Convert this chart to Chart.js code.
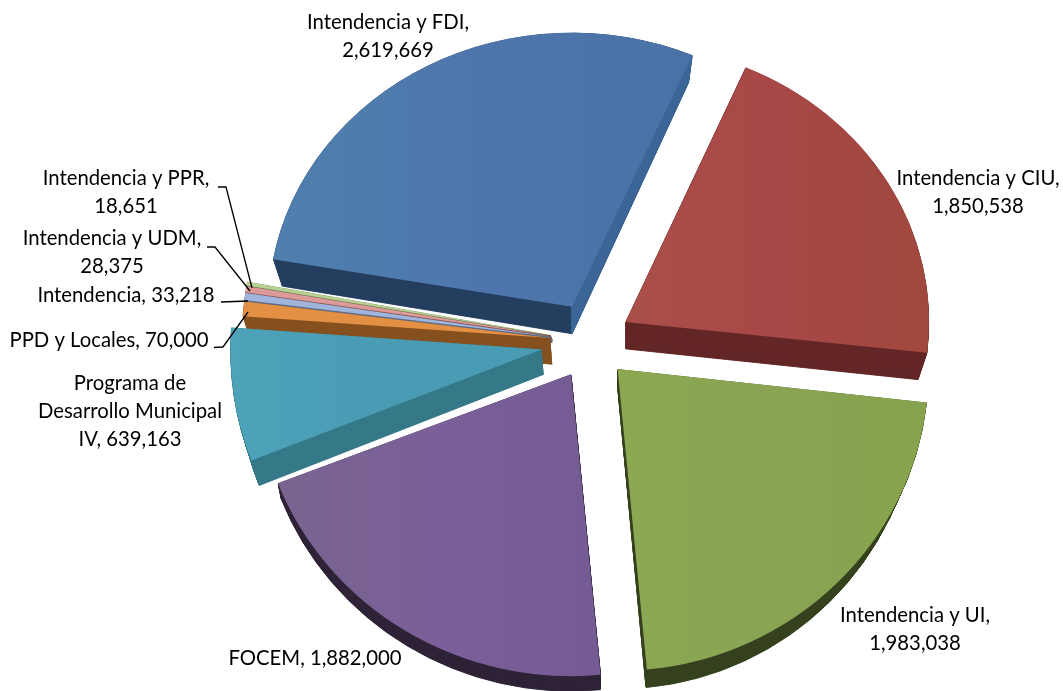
<!DOCTYPE html>
<html><head><meta charset="utf-8">
<style>html,body{margin:0;padding:0;background:#fff}canvas{display:block}</style>
<script src="https://cdn.jsdelivr.net/npm/chart.js@4/dist/chart.umd.min.js"></script>
</head><body><canvas id="c" width="1063" height="691"></canvas>
<script>
const categories = ["Intendencia y FDI","Intendencia y CIU","Intendencia y UI","FOCEM","Programa de Desarrollo Municipal IV","PPD y Locales","Intendencia","Intendencia y UDM","Intendencia y PPR"];
const values = [2619669,1850538,1983038,1882000,639163,70000,33218,28375,18651];
const faceShades = [["#4f80ae","#4e76ac","#4a72a6"],["#aa4f4a","#a84747","#a0483e"],["#8ca851","#8aa454","#86a34c"],["#79658f","#7a5f98","#755b93"],["#4ea3b9","#4ba0b7","#4a9cb4"],["#e38f44","#e38f44","#e38f44"],["#a0b4dc","#a0b4dc","#a0b4dc"],["#dc9a98","#dc9a98","#dc9a98"],["#b7d094","#b7d094","#b7d094"]];
const faceSpan = [[0,.68],[.5,1],[.5,1],[0,.55],[0,.2],[0,.02],[0,.02],[0,.02],[0,.02]];
const sideColors = ["#243f5f","#642727","#36421f","#2f2337","#367988","#86511f","#5c6d8c","#8a5553","#6d8450"];
const endSideColors = ["#3c6697",null,null,null,null,null,null,null,null];
const sliceOffset = [40,40,38,38,50,41,41,41,41];
const sliceTilt = [.89,.90,.98,.98,1,1,1,1,1];
const sliceWiden = [.985,.985,1.01,1.02,1.01,1,1,1,1];
const sliceDepth = [[0,27,.97],[0,27,.97],[0,18,.97],[0,15,.99],[2,25,.98],[2,26,.98],[2,6,1],[2,5,1],[2,5,1]];
const drawOrder = [0,1,8,7,6,5,4,3,2];
const labelLines = [["Intendencia y FDI,","2,619,669"],["Intendencia y CIU,","1,850,538"],["Intendencia y UI,","1,983,038"],["FOCEM, 1,882,000"],["Programa de","Desarrollo Municipal","IV, 639,163"],["PPD y Locales, 70,000"],["Intendencia, 33,218"],["Intendencia y UDM,","28,375"],["Intendencia y PPR,","18,651"]];
const labelAnchor = [[388,22],[978,178],[915,615],[315,658],[130,383],[109,340],[126,295],[112,238],[126,178]];
const leaderPaths = [[[218,187],[226,187],[252,288]],[[207,247],[215,247],[250,291]],[[221,302],[248,301]],[[214,347.5],[223,347],[248,312]]];
const FONT = '20.3px Lato';
const LINE = 28;

function place(ctx, arc, i, k, mid){
  const off=sliceOffset[i], d=sliceDepth[i];
  ctx.translate(arc.x+Math.cos(mid)*off+d[0]*k, arc.y+Math.sin(mid)*off+d[1]*k);
  ctx.scale(sliceWiden[i]*(1-(1-d[2])*k), sliceTilt[i]);
  ctx.translate(-arc.x,-arc.y);
}
function paint(ctx, arc, color, border){
  const saved=arc.options;
  arc.options=Object.assign({},saved,{backgroundColor:color,borderColor:color,borderWidth:border,offset:0});
  arc.draw(ctx);
  arc.options=saved;
}
function sweep(ctx, arc, i, color, mid){
  const N=Math.max(sliceDepth[i][1]*2,1);
  for(let s=N;s>=1;s--){ctx.save();place(ctx,arc,i,s/N,mid);paint(ctx,arc,color,0.8);ctx.restore();}
}
const pie3d={id:'pie3d',
  beforeDatasetDraw(){return false;},
  afterDatasetsDraw(chart){
    const ctx=chart.ctx, arcs=chart.getDatasetMeta(0).data, R=arcs[0].outerRadius;
    drawOrder.forEach(i=>{
      const arc=arcs[i], mid=(arc.startAngle+arc.endAngle)/2;
      sweep(ctx,arc,i,sideColors[i],mid);
      if(endSideColors[i]){
        const s=arc.startAngle; arc.startAngle=Math.PI*1.5;
        sweep(ctx,arc,i,endSideColors[i],mid);
        arc.startAngle=s;
      }
      const g=ctx.createLinearGradient(arc.x-R+2*R*faceSpan[i][0],0,arc.x-R+2*R*faceSpan[i][1],0);
      faceShades[i].forEach((c,n)=>g.addColorStop(n/2,c));
      ctx.save();place(ctx,arc,i,0,mid);paint(ctx,arc,g,0);ctx.restore();
    });
  },
  afterDraw(chart){
    const ctx=chart.ctx;
    ctx.save();
    ctx.strokeStyle='#000';ctx.lineWidth=1.3;
    leaderPaths.forEach(p=>{ctx.beginPath();p.forEach((q,n)=>n?ctx.lineTo(q[0],q[1]):ctx.moveTo(q[0],q[1]));ctx.stroke();});
    ctx.fillStyle='#000';ctx.font=FONT;ctx.textAlign='center';ctx.textBaseline='middle';
    labelLines.forEach((ls,i)=>ls.forEach((t,n)=>ctx.fillText(t,labelAnchor[i][0],labelAnchor[i][1]+n*LINE)));
    ctx.restore();
  }
};
new Chart(document.getElementById('c'),{
  type:'pie',
  data:{labels:categories,datasets:[{data:values,backgroundColor:faceShades.map(s=>s[1]),borderWidth:0,clip:false}]},
  options:{responsive:false,animation:false,rotation:280,radius:308,
    layout:{padding:{left:119,right:0,top:0,bottom:7}},
    plugins:{legend:{display:false},tooltip:{enabled:false}},events:[]},
  plugins:[pie3d]
});
</script></body></html>
